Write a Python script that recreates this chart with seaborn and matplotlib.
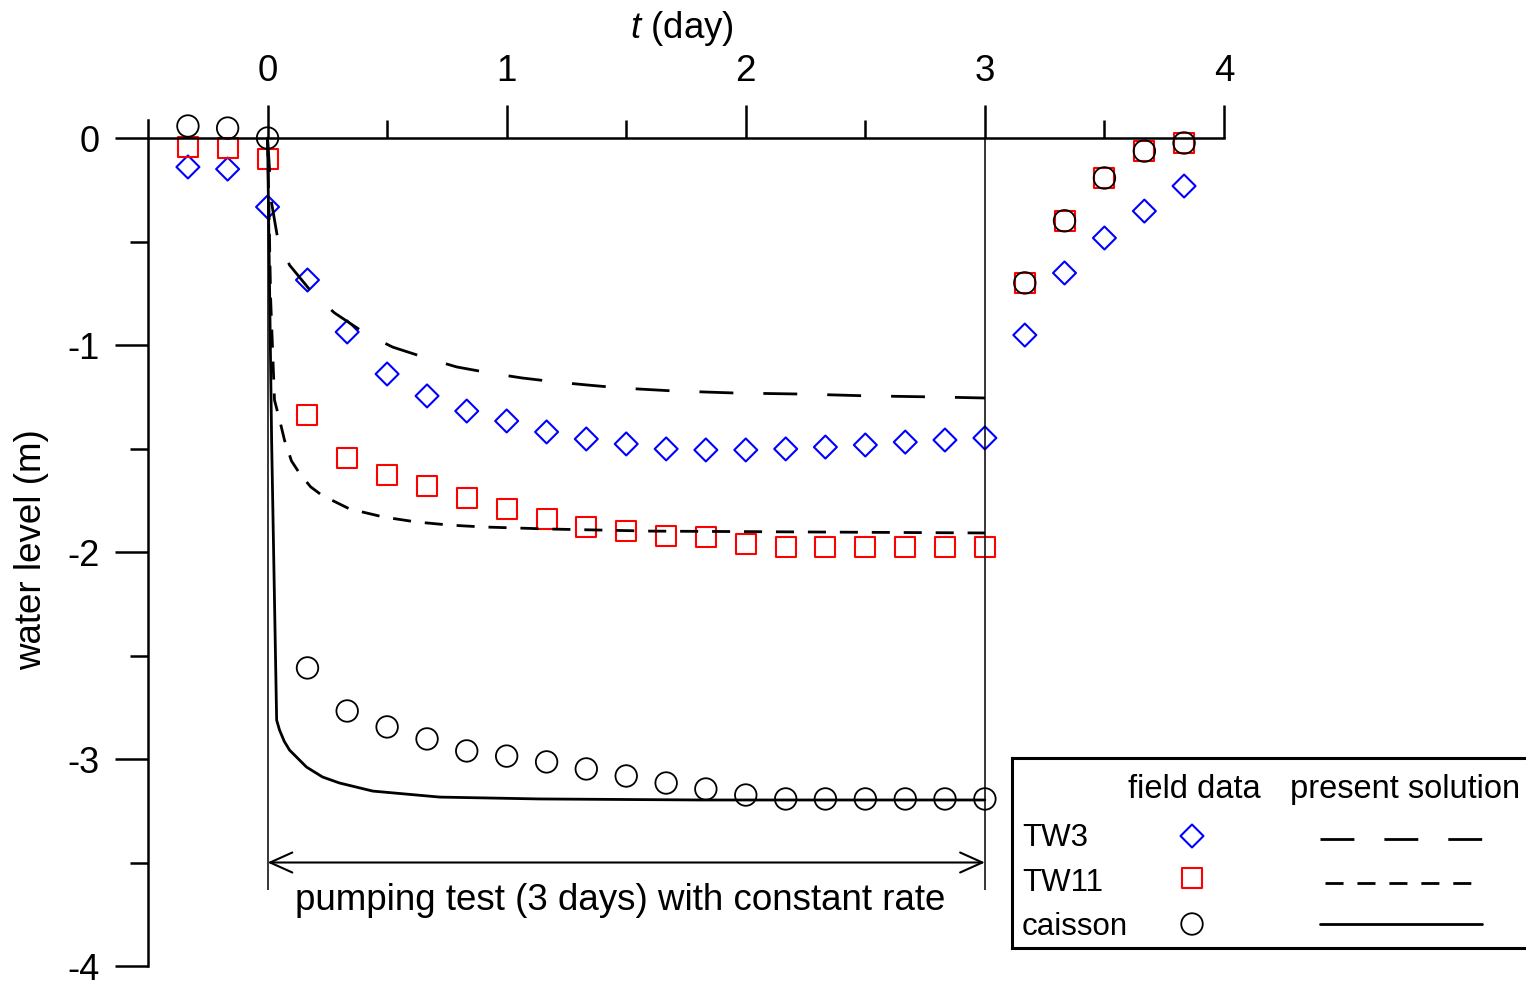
import numpy as np
import pandas as pd
import matplotlib
matplotlib.use("Agg")
import matplotlib.pyplot as plt
import seaborn as sns

# ---------------- data ----------------
t_obs = [-0.333, -0.167, 0.0, 0.167, 0.333, 0.5, 0.667, 0.833, 1.0, 1.167, 1.333,
         1.5, 1.667, 1.833, 2.0, 2.167, 2.333, 2.5, 2.667, 2.833, 3.0,
         3.167, 3.333, 3.5, 3.667, 3.833]
tw3_obs = [-0.14, -0.15, -0.333, -0.686, -0.937, -1.14, -1.246, -1.319, -1.367, -1.42, -1.454,
           -1.478, -1.502, -1.507, -1.507, -1.502, -1.493, -1.483, -1.469, -1.459, -1.449,
           -0.952, -0.652, -0.483, -0.353, -0.232]
tw11_obs = [-0.043, -0.048, -0.10, -1.338, -1.546, -1.628, -1.681, -1.739, -1.792, -1.841, -1.879,
            -1.899, -1.923, -1.928, -1.961, -1.976, -1.976, -1.976, -1.976, -1.976, -1.976,
            -0.70, -0.40, -0.193, -0.063, -0.024]
caisson_obs = [0.058, 0.048, 0.0, -2.56, -2.768, -2.845, -2.903, -2.961, -2.986, -3.014, -3.048,
               -3.082, -3.116, -3.145, -3.174, -3.193, -3.193, -3.193, -3.193, -3.193, -3.193,
               -0.70, -0.40, -0.193, -0.063, -0.024]

tw3_t_model = [0.0, 0.017, 0.042, 0.092, 0.188, 0.280, 0.406, 0.523, 0.665, 0.791, 0.929,
               1.063, 1.209, 1.335, 1.481, 1.699, 1.958, 2.238, 2.519, 2.795, 3.0]
tw3_model = [0.0, -0.314, -0.483, -0.614, -0.749, -0.845, -0.942, -1.010, -1.063, -1.106, -1.135,
             -1.159, -1.179, -1.193, -1.208, -1.222, -1.232, -1.237, -1.246, -1.251, -1.256]

tw11_t_model = [0.0, 0.013, 0.029, 0.05, 0.071, 0.1, 0.134, 0.18, 0.226, 0.343, 0.485,
                0.623, 0.762, 0.9, 1.18, 1.6, 2.226, 3.0]
tw11_model = [0.0, -0.78, -1.266, -1.36, -1.46, -1.56, -1.62, -1.685, -1.725, -1.792, -1.831,
              -1.855, -1.870, -1.879, -1.889, -1.899, -1.903, -1.908]

caisson_t_model = [0.0, 0.017, 0.038, 0.05, 0.07, 0.092, 0.163, 0.23, 0.301, 0.44, 0.72,
                   1.138, 1.81, 3.0]
caisson_model = [0.0, -1.46, -2.812, -2.86, -2.915, -2.957, -3.039, -3.087, -3.116, -3.155, -3.184,
                 -3.193, -3.198, -3.198]

x_major = [0, 1, 2, 3, 4]
x_major_labels = ["0", "1", "2", "3", "4"]
x_minor = [0.5, 1.5, 2.5, 3.5]
y_major = [0, -1, -2, -3, -4]
y_major_labels = ["0", "-1", "-2", "-3", "-4"]
y_minor = [-0.5, -1.5, -2.5, -3.5]

pump_start, pump_end = 0.0, 3.0
arrow_level = -3.5
pump_line_bottom = -3.633
annotation_text = "pumping test (3 days) with constant rate"

series_names = ["TW3", "TW11", "caisson"]
header_field = "field data"
header_model = "present solution"

# ---------------- style ----------------
sns.set_theme(style="ticks")
plt.rcParams["font.family"] = ["Liberation Sans", "DejaVu Sans"]
plt.rcParams["axes.unicode_minus"] = False
plt.rcParams["mathtext.fontset"] = "custom"
plt.rcParams["mathtext.it"] = "Liberation Sans:italic"
plt.rcParams["mathtext.rm"] = "Liberation Sans"

BLUE = "#0000ff"
RED = "#ff0000"
FS = 26.5
LW_CURVE = 2.0
DASH_LONG = (0, (12.2, 10.8))
DASH_SHORT = (0, (6.5, 5.0))

W, H = 1526, 981
fig = plt.figure(figsize=(W / 100, H / 100), dpi=100)
fig.patch.set_facecolor("white")
ax = fig.add_axes([148 / W, 1 - 966 / H, 1076 / W, 846 / H])
ax.set_facecolor("white")
ax.set_xlim(-0.5, 4.0)
ax.set_ylim(-4.0, 0.087)

obs = pd.DataFrame({"t": t_obs, "TW3": tw3_obs, "TW11": tw11_obs, "caisson": caisson_obs})

sns.scatterplot(data=obs, x="t", y="TW3", marker="D", s=137, facecolor="none",
                edgecolor=BLUE, linewidth=1.5, ax=ax, clip_on=False, zorder=3)
sns.scatterplot(data=obs, x="t", y="TW11", marker="s", s=207, facecolor="none",
                edgecolor=RED, linewidth=1.5, ax=ax, clip_on=False, zorder=3)
sns.scatterplot(data=obs, x="t", y="caisson", marker="o", s=240, facecolor="none",
                edgecolor="black", linewidth=1.3, ax=ax, clip_on=False, zorder=3)

sns.lineplot(x=tw3_t_model, y=tw3_model, color="black", linewidth=LW_CURVE,
             linestyle=DASH_LONG, estimator=None, sort=False, ax=ax, zorder=4)
sns.lineplot(x=tw11_t_model, y=tw11_model, color="black", linewidth=LW_CURVE,
             linestyle=DASH_SHORT, estimator=None, sort=False, ax=ax, zorder=4)
sns.lineplot(x=caisson_t_model, y=caisson_model, color="black", linewidth=LW_CURVE,
             linestyle="-", estimator=None, sort=False, ax=ax, zorder=4)

# pumping period markers
ax.vlines([pump_start, pump_end], pump_line_bottom, 0, colors="black", linewidth=1.1, zorder=5)
ax.annotate("", xy=(pump_start, arrow_level), xytext=(pump_end, arrow_level),
            arrowprops=dict(arrowstyle="<->,head_length=0.8,head_width=0.36",
                            mutation_scale=20, lw=1.5, color="black",
                            shrinkA=0, shrinkB=0), zorder=5)
ax.text(0.113, -3.729, annotation_text, fontsize=FS, ha="left", va="baseline", color="black")

# spines / ticks
for side in ["right", "bottom"]:
    ax.spines[side].set_visible(False)
ax.spines["top"].set_position(("data", 0))
ax.spines["top"].set_bounds(-0.5, 4.0)
ax.spines["left"].set_bounds(-4.0, 0.087)
for side in ["top", "left"]:
    ax.spines[side].set_linewidth(1.8)
    ax.spines[side].set_color("black")
    ax.spines[side].set_zorder(6)
ax.xaxis.set_ticks_position("top")
ax.yaxis.set_ticks_position("left")
ax.set_xticks(x_major, labels=x_major_labels)
ax.set_xticks(x_minor, minor=True)
ax.set_yticks(y_major, labels=y_major_labels)
ax.set_yticks(y_minor, minor=True)
ax.tick_params(which="major", length=24, width=1.8, direction="out", labelsize=FS,
               pad=11, colors="black")
ax.tick_params(axis="y", which="major", labelsize=26)
ax.tick_params(which="minor", length=13, width=1.8, direction="out", colors="black")
ax.grid(False)

ax.set_xlabel("$t$ (day)", fontsize=FS, color="black")
ax.xaxis.set_label_coords((682 - 148) / 1076, (966 - 28) / 846)
ax.xaxis.label.set_va("center")
ax.set_ylabel("water level (m)", fontsize=FS, color="black")
ax.yaxis.set_label_coords((32 - 148) / 1076, (966 - 550) / 846)
ax.yaxis.label.set_va("center")

# ---------------- legend table ----------------
lx0, lx1, ly_top, ly_bot = 1012, 1545, 758, 948
lax = fig.add_axes([lx0 / W, 1 - ly_bot / H, (lx1 - lx0) / W, (ly_bot - ly_top) / H])
lax.set_xlim(lx0, lx1)
lax.set_ylim(ly_bot, ly_top)
lax.set_xticks([])
lax.set_yticks([])
lax.set_facecolor("white")
for sp in lax.spines.values():
    sp.set_linewidth(2.2)
    sp.set_color("black")

LFS_H = 23.5
LFS_R = 22.5
lax.text(1128, 798, header_field, fontsize=LFS_H, ha="left", va="baseline", color="black")
lax.text(1290, 798, header_model, fontsize=LFS_H, ha="left", va="baseline", color="black",
         clip_on=False)

row_base = [846, 891, 935]
row_mark = [836, 878, 924]
row_line = [839, 883, 924]
row_x = [(1320, 1482), (1325, 1472), (1320, 1482)]
markers = [("D", 137, BLUE, 1.5), ("s", 207, RED, 1.5), ("o", 240, "black", 1.3)]
styles = [DASH_LONG, DASH_SHORT, "-"]
for name, yb, ym, yl, (xa, xb), (mk, s, col, lw), ls in zip(series_names, row_base, row_mark,
                                                            row_line, row_x, markers, styles):
    lax.text(1022, yb, name, fontsize=LFS_R, ha="left", va="baseline", color="black")
    lax.scatter([1192], [ym], marker=mk, s=s, facecolor="none", edgecolor=col,
                linewidth=lw, clip_on=False)
    lax.plot([xa, xb], [yl, yl], color="black", linewidth=LW_CURVE, linestyle=ls)

fig.savefig("out.png", dpi=100, facecolor="white")
